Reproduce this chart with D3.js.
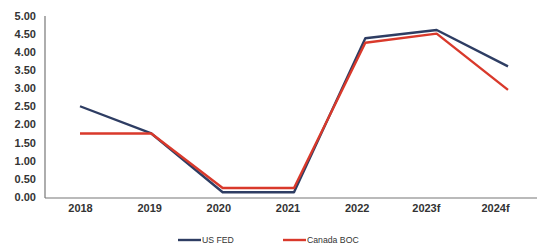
<!DOCTYPE html>
<html><head><meta charset="utf-8">
<script src="https://cdn.jsdelivr.net/npm/d3@7"></script>
<style>body{margin:0;background:#fff}svg{display:block}</style>
</head><body>
<svg id="c" width="537" height="246"></svg>
<script>
const categories = ["2018","2019","2020","2021","2022","2023f","2024f"];
const usFed = [2.5, 1.75, 0.13, 0.13, 4.375, 4.6, 3.6];
const canadaBoc = [1.75, 1.75, 0.25, 0.25, 4.25, 4.5, 2.95];
const yTicks = [0,0.5,1,1.5,2,2.5,3,3.5,4,4.5,5];
const seriesNames = ["US FED","Canada BOC"];
const colors = ["#2e3d63","#d9392b"];

const svg = d3.select("#c");
const y = d3.scaleLinear().domain([0,5]).range([197,15.5]);
const xLine = d3.scalePoint().domain(categories).range([80,508]);
const xLabel = d3.scalePoint().domain(categories).range([80,495]);

// axes lines
svg.append("line").attr("x1",45).attr("x2",45).attr("y1",16).attr("y2",198).attr("stroke","#777").attr("stroke-width",1.2);
svg.append("line").attr("x1",45).attr("x2",537).attr("y1",198).attr("y2",198).attr("stroke","#777").attr("stroke-width",1.2);

// y tick labels
const yAxis = d3.axisLeft(y).tickValues(yTicks).tickFormat(d3.format(".2f")).tickSize(0).tickPadding(0);
const ya = svg.append("g").attr("transform","translate(36,0)").call(yAxis);
ya.select(".domain").remove();
ya.selectAll("text").attr("font-family","Liberation Sans, Arial, sans-serif").attr("font-weight","bold").attr("font-size","11px").attr("fill","#333");

// x tick labels
const xAxis = d3.axisBottom(xLabel).tickSize(0).tickPadding(0);
const xa = svg.append("g").attr("transform","translate(0,204)").call(xAxis);
xa.select(".domain").remove();
xa.selectAll("text").attr("font-family","Liberation Sans, Arial, sans-serif").attr("font-weight","bold").attr("font-size","11px").attr("fill","#333");

const line = d3.line().x((d,i)=>xLine(categories[i])).y(d=>y(d));
[usFed, canadaBoc].forEach((s,k)=>{
  svg.append("path").datum(s).attr("d",line).attr("fill","none").attr("stroke",colors[k]).attr("stroke-width",2.4).attr("stroke-linejoin","round");
});

// legend
const legX = [178, 283];
seriesNames.forEach((n,k)=>{
  svg.append("line").attr("x1",legX[k]).attr("x2",legX[k]+23).attr("y1",240).attr("y2",240).attr("stroke",colors[k]).attr("stroke-width",2.4);
  svg.append("text").attr("x",legX[k]+24).attr("y",243).text(n)
    .attr("font-family","Liberation Sans, Arial, sans-serif").attr("font-size","8.7px").attr("fill","#333");
});
</script>
</body></html>
